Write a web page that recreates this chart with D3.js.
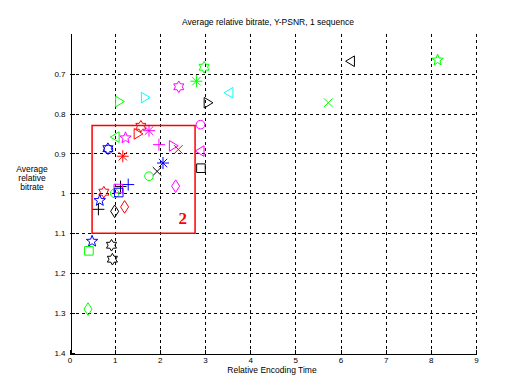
<!DOCTYPE html>
<html>
<head>
<meta charset="utf-8">
<script src="https://cdn.jsdelivr.net/npm/d3@7"></script>
<style>
  body { margin: 0; background: #fff; }
  svg { display: block; font-family: "Liberation Sans", Arial, sans-serif; }
</style>
</head>
<body>
<div id="chart"></div>
<script>
// relative encoding time / average relative bitrate, one point per codec setting
const relTime = [
  2.98, 2.81, 3.53, 3.07, 2.90, 2.89, 2.91, 6.22, 8.15, 5.73,
  1.11, 1.68, 2.42, 1.58, 1.52, 1.76, 1.24, 1.01, 0.85, 0.86,
  1.18, 1.98, 2.30, 2.41, 2.07, 1.94, 1.76, 2.35, 1.30, 1.13,
  1.08, 0.76, 1.00, 1.09, 0.67, 0.64, 1.00, 1.22, 0.50, 0.43,
  0.93, 0.95, 0.41
]
const relBitrate = [
  0.684, 0.719, 0.748, 0.773, 0.828, 0.894, 0.937, 0.669, 0.666, 0.773,
  0.770, 0.760, 0.733, 0.832, 0.851, 0.843, 0.861, 0.859, 0.888, 0.890,
  0.907, 0.878, 0.881, 0.890, 0.924, 0.945, 0.957, 0.982, 0.978, 0.983,
  0.988, 0.997, 1.000, 0.998, 1.018, 1.040, 1.045, 1.034, 1.120, 1.144,
  1.130, 1.165, 1.290
]
const markerShape = [
  "h", "*", "<", ">", "o", "<", "s", "<", "p", "x",
  ">", ">", "h", "h", ">", "*", "p", "<", "h", "o",
  "*", "+", ">", "x", "*", "x", "o", "d", "+", "+",
  "s", "h", "o", "s", "p", "+", "d", "d", "p", "s",
  "h", "h", "d"
]
const markerColor = [
  "g", "g", "c", "k", "m", "m", "k", "k", "g", "g",
  "g", "c", "m", "r", "r", "m", "m", "g", "b", "b",
  "r", "m", "m", "r", "b", "k", "g", "m", "b", "k",
  "m", "r", "g", "b", "b", "k", "k", "r", "b", "g",
  "k", "k", "g"
]
const xTicks = [0, 1, 2, 3, 4, 5, 6, 7, 8, 9]
const yTicks = [0.7, 0.8, 0.9, 1, 1.1, 1.2, 1.3, 1.4]
const zoomBox = { x0: 0.5, x1: 2.78, y0: 0.83, y1: 1.1, label: "2" }

const width = 530, height = 387
const marginLeft = 69.5, marginRight = 54, marginTop = 33.7, marginBottom = 34

const colorMap = { r: "#ff0000", g: "#00ff00", b: "#0000ff", c: "#00ffff", m: "#ff00ff", k: "#000000" }

const x = d3.scaleLinear().domain([0, 9]).range([marginLeft, width - marginRight])
const y = d3.scaleLinear().domain([0.6, 1.4]).range([marginTop, height - marginBottom])

const svg = d3.select("#chart").append("svg")
  .attr("width", width)
  .attr("height", height)
  .attr("viewBox", [0, 0, width, height])

// grid
const grid = svg.append("g")
  .attr("stroke", "#000")
  .attr("stroke-width", 1)
  .attr("stroke-dasharray", "3,3")
  .attr("shape-rendering", "crispEdges")
grid.selectAll(".vg").data(xTicks.slice(1)).join("line")
  .attr("x1", d => Math.round(x(d)) + 0.5).attr("x2", d => Math.round(x(d)) + 0.5)
  .attr("y1", y(0.6)).attr("y2", y(1.4))
grid.selectAll(".hg").data(yTicks.slice(0, -1)).join("line")
  .attr("y1", d => Math.round(y(d)) + 0.5).attr("y2", d => Math.round(y(d)) + 0.5)
  .attr("x1", x(0)).attr("x2", x(9))

// axes
const xAxis = svg.append("g")
  .attr("transform", `translate(0,${Math.round(y(1.4)) + 0.5})`)
  .call(d3.axisBottom(x).tickValues(xTicks).tickSizeInner(-4).tickSizeOuter(0).tickPadding(4))
const yAxis = svg.append("g")
  .attr("transform", `translate(${Math.round(x(0)) + 0.5},0)`)
  .call(d3.axisLeft(y).tickValues(yTicks).tickFormat(d3.format("")).tickSizeInner(-4).tickSizeOuter(0).tickPadding(5))
for (const a of [xAxis, yAxis]) {
  a.select(".domain").attr("stroke", "#000").attr("shape-rendering", "crispEdges")
  a.selectAll(".tick line").attr("stroke", "#000").attr("shape-rendering", "crispEdges")
  a.selectAll(".tick text").attr("font-size", 8).attr("fill", "#000")
}

// marker shapes (matlab style)
const symbols = {
  o: { draw(c) { c.arc(0, 0, 4.3, 0, 2 * Math.PI) } },
  s: { draw(c) { c.rect(-4.3, -4.3, 8.6, 8.6) } },
  d: { draw(c) { c.moveTo(0, -6.3); c.lineTo(4, 0); c.lineTo(0, 6.3); c.lineTo(-4, 0); c.closePath() } },
  ">": { draw(c) { c.moveTo(4.8, 0); c.lineTo(-4, -5.3); c.lineTo(-4, 5.3); c.closePath() } },
  "<": { draw(c) { c.moveTo(-4.8, 0); c.lineTo(4, -5.3); c.lineTo(4, 5.3); c.closePath() } },
  "+": { draw(c) { c.moveTo(-6, 0); c.lineTo(6, 0); c.moveTo(0, -6); c.lineTo(0, 6) } },
  x: { draw(c) { c.moveTo(-4.3, -4.3); c.lineTo(4.3, 4.3); c.moveTo(-4.3, 4.3); c.lineTo(4.3, -4.3) } },
  "*": { draw(c) {
    c.moveTo(-6, 0); c.lineTo(6, 0); c.moveTo(0, -6); c.lineTo(0, 6)
    c.moveTo(-4.2, -4.2); c.lineTo(4.2, 4.2); c.moveTo(-4.2, 4.2); c.lineTo(4.2, -4.2)
  } },
  p: { draw(c) {
    for (let i = 0; i < 10; i++) {
      const r = i % 2 ? 2.5 : 6, a = -Math.PI / 2 + i * Math.PI / 5
      i ? c.lineTo(r * Math.cos(a), r * Math.sin(a)) : c.moveTo(r * Math.cos(a), r * Math.sin(a))
    }
    c.closePath()
  } },
  h: { draw(c) {
    for (let i = 0; i < 12; i++) {
      const r = i % 2 ? 3.4 : 5.8, a = -Math.PI / 2 + i * Math.PI / 6
      i ? c.lineTo(r * Math.cos(a), r * Math.sin(a)) : c.moveTo(r * Math.cos(a), r * Math.sin(a))
    }
    c.closePath()
  } }
}

const points = relTime.map((t, i) => ({ t, b: relBitrate[i], shape: markerShape[i], col: colorMap[markerColor[i]] }))

svg.append("g").selectAll("path").data(points).join("path")
  .attr("transform", d => `translate(${x(d.t)},${y(d.b)})`)
  .attr("d", d => d3.symbol(symbols[d.shape])())
  .attr("fill", "none")
  .attr("stroke", d => d.col)
  .attr("stroke-width", 1)

// zoom box
svg.append("rect")
  .attr("x", x(zoomBox.x0)).attr("y", y(zoomBox.y0))
  .attr("width", x(zoomBox.x1) - x(zoomBox.x0))
  .attr("height", y(zoomBox.y1) - y(zoomBox.y0))
  .attr("fill", "none").attr("stroke", "#ff0000").attr("stroke-width", 1.5)
svg.append("text")
  .attr("x", x(2.51)).attr("y", y(1.062) + 6)
  .attr("text-anchor", "middle")
  .attr("font-family", "'Liberation Serif', 'Times New Roman', serif")
  .attr("font-weight", "bold")
  .attr("font-size", 17)
  .attr("fill", "#ff0000")
  .text(zoomBox.label)

// titles
svg.append("text")
  .attr("x", 268).attr("y", 25)
  .attr("text-anchor", "middle").attr("font-size", 8.5)
  .text("Average relative bitrate, Y-PSNR, 1 sequence")
svg.append("text")
  .attr("x", 272).attr("y", 373)
  .attr("text-anchor", "middle").attr("font-size", 8.5)
  .text("Relative Encoding Time")
const yl = svg.append("text").attr("text-anchor", "middle").attr("font-size", 8.5)
;["Average", "relative", "bitrate"].forEach((s, i) => {
  yl.append("tspan").attr("x", 32).attr("y", 172 + i * 9).text(s)
})
</script>
</body>
</html>
